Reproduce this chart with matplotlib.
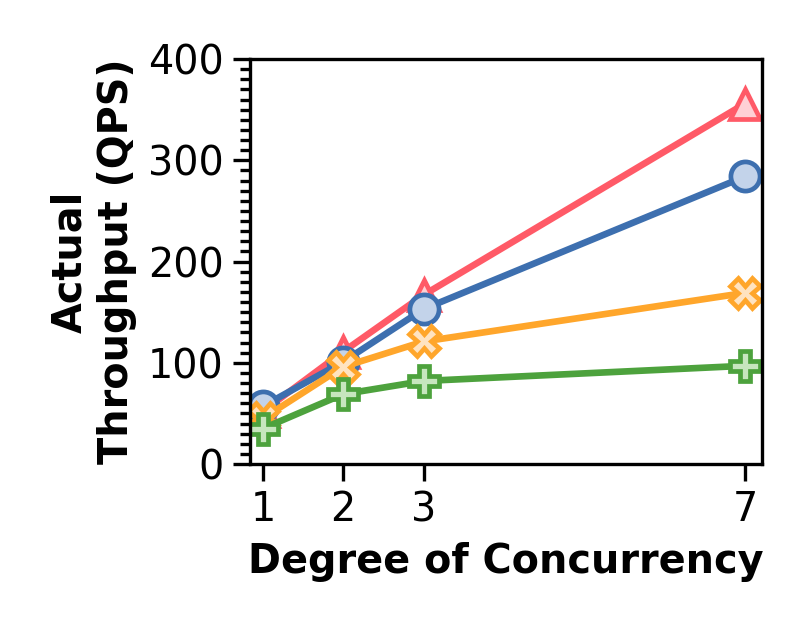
import numpy as np
import matplotlib.pyplot as plt
from matplotlib.ticker import MultipleLocator

# dados
concorrencia = [1, 2, 3, 7]
serie_vermelha = [52, 111, 167, 356]
serie_azul = [57, 101, 153, 284]
serie_laranja = [45, 96, 121, 169]
serie_verde = [35, 69, 82, 97]

estilos = [
    (serie_vermelha, '#FF5A67', '#FFD0D5', '^'),
    (serie_azul, '#3D6FAF', '#C3D3EA', 'o'),
    (serie_laranja, '#FFA62B', '#FFE3C0', 'X'),
    (serie_verde, '#4DA23D', '#C7E6BE', 'P'),
]

fig = plt.figure(figsize=(4.02, 3.16), dpi=200)
ax = fig.add_axes([250 / 804, 1 - 464 / 632, 512 / 804, 405 / 632])

for valores, cor, face, marcador in estilos:
    ax.plot(concorrencia, valores, color=cor, lw=2.4, marker=marcador,
            markersize=10.5, markerfacecolor=face, markeredgecolor=cor,
            markeredgewidth=1.7)

ax.set_xlim(0.84, 7.21)
ax.set_ylim(0, 400)
ax.set_xticks(concorrencia)
ax.set_yticks([0, 100, 200, 300, 400])
ax.yaxis.set_minor_locator(MultipleLocator(10))
ax.tick_params(axis='both', which='major', labelsize=14.3, length=6, width=1.2)
ax.tick_params(axis='y', which='minor', length=3.5, width=1.2)
for lado in ax.spines.values():
    lado.set_linewidth(1.2)

ax.set_xlabel('Degree of Concurrency', fontsize=14.3, fontweight='bold')
ax.set_ylabel('Actual\nThroughput (QPS)', fontsize=14.3, fontweight='bold')

fig.savefig('out.png', dpi=200)
